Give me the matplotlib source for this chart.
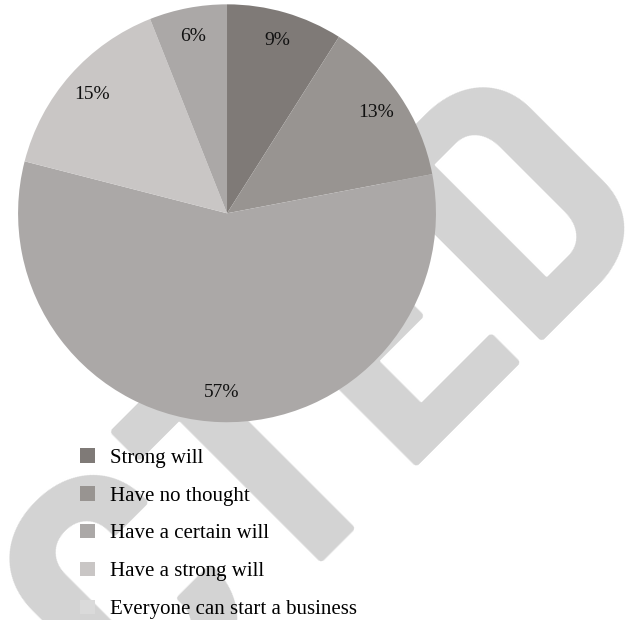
import numpy as np
import matplotlib
matplotlib.use("Agg")
import matplotlib.pyplot as plt
from matplotlib.patches import Patch
from matplotlib.font_manager import FontProperties
from matplotlib.textpath import TextPath

labels = ["Strong will", "Have no thought", "Have a certain will",
          "Have a strong will", "Everyone can start a business"]
shares = [9, 13, 57, 15, 6]
slice_colors = ["#7f7a77", "#989491", "#aba8a7", "#c9c6c5", "#aba8a7"]
legend_colors = ["#7f7a77", "#989491", "#aba8a7", "#c9c6c5", "#dadada"]

plt.rcParams["font.family"] = ["Liberation Serif", "DejaVu Serif"]

W, H, DPI = 644, 620, 100
fig = plt.figure(figsize=(W / DPI, H / DPI), dpi=DPI)

# watermark: place so the ink of the "E" starts where it does in the source
wm = "RETRACTED"
wm_prop = FontProperties(family=["Barlow Semi Condensed", "DejaVu Sans"],
                         weight="bold", size=250)
r = fig.canvas.get_renderer()
w_pre = r.get_text_width_height_descent("RETRACT", wm_prop, ismath=False)[0]
lsb = TextPath((0, 0), "E", prop=wm_prop).get_extents().x0 * DPI / 72
u = np.array([np.cos(np.pi / 4), np.sin(np.pi / 4)])
e_corner = np.array([412, H - 453])
origin = e_corner - (w_pre + lsb) * u
fig.text(origin[0] / W, origin[1] / H, wm, fontproperties=wm_prop,
         color="#d3d3d3", rotation=45, rotation_mode="anchor",
         ha="left", va="baseline", zorder=-1)

ax = fig.add_axes([0.028, 0.319, 0.649, 0.674])
ax.patch.set_visible(False)
wedges, texts, autotexts = ax.pie(shares, colors=slice_colors, startangle=90,
                                  counterclock=False, autopct="%d%%",
                                  pctdistance=0.86, radius=1,
                                  textprops={"fontsize": 14, "color": "#111111"})
ax.set_xlim(-1, 1)
ax.set_ylim(-1, 1)
ax.set_aspect("equal")
ax.axis("off")

handles = [Patch(facecolor=c, edgecolor="none") for c in legend_colors]
fig.legend(handles, labels, loc="upper left", bbox_to_anchor=(80 / W, 1 - 448 / H),
           frameon=False, fontsize=15, handlelength=0.7, handleheight=0.7,
           handletextpad=0.75, labelspacing=0.88, borderpad=0, borderaxespad=0)

fig.savefig("out.png", dpi=DPI)
